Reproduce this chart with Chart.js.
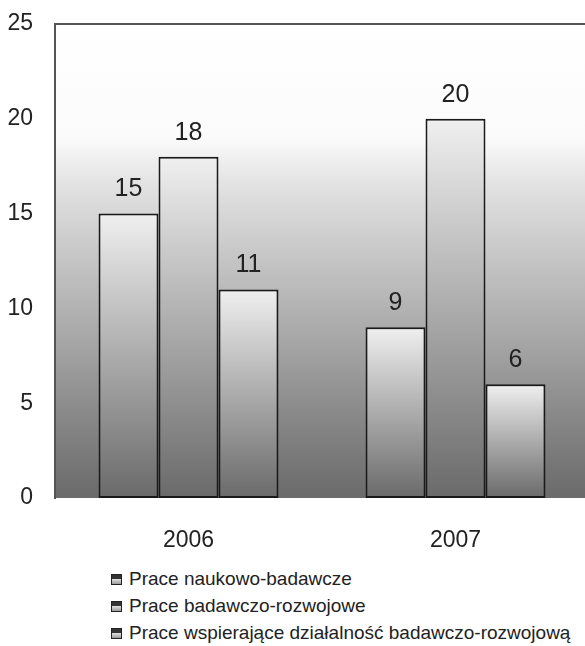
<!DOCTYPE html>
<html>
<head>
<meta charset="utf-8">
<script src="https://cdn.jsdelivr.net/npm/chart.js@4/dist/chart.umd.min.js"></script>
<style>
  html, body { margin: 0; padding: 0; background: #fff; width: 585px; height: 646px; overflow: hidden; position: relative; }
  #wrap { position: absolute; left: 0; top: 0; width: 589px; height: 560px; }
  #legend { position: absolute; left: 111px; top: 565px; font-family: "Liberation Sans", Arial, sans-serif; font-size: 19px; color: #222; }
  #legend div { height: 27px; line-height: 27px; white-space: nowrap; }
  #legend span.box { display: inline-block; width: 9px; height: 9px; border: 1.5px solid #222; margin-right: 7px; vertical-align: 0px;
    background: linear-gradient(to bottom, #333 0%, #333 40%, #e8e8e8 40%, #9a9a9a 100%); }
</style>
</head>
<body>
<div id="wrap"><canvas id="c" width="589" height="560"></canvas></div>
<div id="legend"></div>
<script>
const categories = ["2006", "2007"];
const seriesNames = ["Prace naukowo-badawcze", "Prace badawczo-rozwojowe", "Prace wspierające działalność badawczo-rozwojową"];
const naukowoBadawcze = [15, 9];
const badawczoRozwojowe = [18, 20];
const wspierajace = [11, 6];
const yTicks = [0, 5, 10, 15, 20, 25];

function barGradient(ctx) {
  const chart = ctx.chart;
  if (!chart.chartArea || ctx.type !== 'data') return '#cccccc';
  const y = chart.scales.y;
  const top = y.getPixelForValue(ctx.raw);
  const bottom = y.getPixelForValue(0);
  const g = chart.ctx.createLinearGradient(0, top, 0, bottom);
  g.addColorStop(0, '#f0f0f0');
  g.addColorStop(0.25, '#cdcdcd');
  g.addColorStop(1, '#6a6a6a');
  return g;
}

const bgPlugin = {
  id: 'bg',
  beforeDraw(chart) {
    const { ctx, chartArea: a } = chart;
    const g = ctx.createLinearGradient(0, a.top, 0, a.bottom);
    g.addColorStop(0, '#ffffff');
    g.addColorStop(0.24, '#fbfbfb');
    g.addColorStop(0.33, '#e4e4e4');
    g.addColorStop(0.48, '#c8c8c8');
    g.addColorStop(0.67, '#a6a6a6');
    g.addColorStop(0.84, '#868686');
    g.addColorStop(1, '#6a6a6a');
    ctx.save();
    ctx.fillStyle = g;
    ctx.fillRect(a.left, a.top, a.right - a.left, a.bottom - a.top);
    ctx.strokeStyle = '#555';
    ctx.lineWidth = 2;
    ctx.beginPath();
    ctx.moveTo(a.left, a.top);
    ctx.lineTo(a.right + 5, a.top);
    ctx.stroke();
    ctx.restore();
  }
};

const labelPlugin = {
  id: 'vals',
  afterDatasetsDraw(chart) {
    const ctx = chart.ctx;
    ctx.save();
    ctx.font = '25px "Liberation Sans", Arial, sans-serif';
    ctx.fillStyle = '#222';
    ctx.textAlign = 'center';
    ctx.textBaseline = 'middle';
    chart.data.datasets.forEach((ds, i) => {
      chart.getDatasetMeta(i).data.forEach((bar, j) => {
        ctx.fillText(String(ds.data[j]), bar.x, bar.y - 24);
      });
    });
    ctx.restore();
  }
};

const common = { backgroundColor: barGradient, borderColor: '#1a1a1a', borderWidth: 2, borderSkipped: false,
  barPercentage: 1.0, categoryPercentage: 0.674 };

const chart = new Chart(document.getElementById('c'), {
  type: 'bar',
  data: {
    labels: categories,
    datasets: [
      Object.assign({ label: seriesNames[0], data: naukowoBadawcze }, common),
      Object.assign({ label: seriesNames[1], data: badawczoRozwojowe }, common),
      Object.assign({ label: seriesNames[2], data: wspierajace }, common)
    ]
  },
  options: {
    responsive: false,
    animation: false,
    layout: { padding: { top: 24, left: 0, right: 0, bottom: 0 } },
    plugins: { legend: { display: false }, tooltip: { enabled: false } },
    scales: {
      x: {
        grid: { display: false, drawTicks: false },
        border: { display: false },
        ticks: { color: '#222', font: { family: '"Liberation Sans", Arial, sans-serif', size: 23 }, padding: 29 },
        afterFit(s) { s.height = 62; s.paddingLeft = 0; s.paddingRight = 0; }
      },
      y: {
        min: 0, max: 25,
        afterBuildTicks(s) { s.ticks = yTicks.map(v => ({ value: v })); },
        grid: { display: false, drawTicks: false },
        border: { display: true, color: '#555', width: 2 },
        ticks: { color: '#222', font: { family: '"Liberation Sans", Arial, sans-serif', size: 23 }, padding: 22 },
        afterFit(s) { s.width = 55; s.paddingTop = 0; s.paddingBottom = 0; }
      }
    }
  },
  plugins: [bgPlugin, labelPlugin]
});

const leg = document.getElementById('legend');
chart.data.datasets.forEach(ds => {
  const d = document.createElement('div');
  const b = document.createElement('span');
  b.className = 'box';
  d.appendChild(b);
  d.appendChild(document.createTextNode(ds.label));
  leg.appendChild(d);
});
</script>
</body>
</html>
